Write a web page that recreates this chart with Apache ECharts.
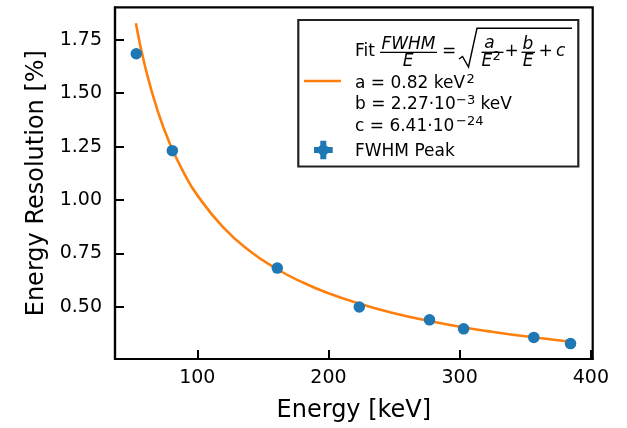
<!DOCTYPE html>
<html>
<head>
<meta charset="utf-8">
<script src="https://cdn.jsdelivr.net/npm/echarts@6/dist/echarts.min.js"></script>
<style>
  html, body { margin: 0; padding: 0; background: #fff; }
  #chart { width: 627px; height: 428px; }
</style>
</head>
<body>
<div id="chart"></div>
<script>
// ---- data ----
const peakEnergy = [53.5, 81.0, 161.0, 223.5, 277.0, 303.0, 356.5, 384.5];          // keV
const peakResolution = [1.684, 1.231, 0.682, 0.500, 0.440, 0.398, 0.358, 0.329];   // %
const fitEnergy = [53.2, 60, 70, 80, 90, 100, 120, 140, 160, 180, 200, 225, 250, 275, 300, 325, 350, 384.5];
const fitResolution = [1.826, 1.630, 1.413, 1.251, 1.125, 1.023, 0.871, 0.762, 0.680, 0.616, 0.564, 0.513, 0.471, 0.437, 0.408, 0.384, 0.363, 0.338];
const xTicks = [100, 200, 300, 400];
const yTicks = [0.50, 0.75, 1.00, 1.25, 1.50, 1.75];
const xName = 'Energy [keV]';
const yName = 'Energy Resolution [%]';
const fitLegendRows = ['a = 0.82 keV', 'b = 2.27\u00B710', 'c = 6.41\u00B710'];
const peakLegend = 'FWHM Peak';

const FONT = 'DejaVu Sans';
const BLUE = '#1f77b4';
const ORANGE = '#ff7f0e';

const chart = echarts.init(document.getElementById('chart'), null, { renderer: 'canvas' });

function txt(text, x, y, opts) {
  opts = opts || {};
  return {
    type: 'text', z: 102,
    style: {
      text: text, x: x, y: y,
      fill: '#000',
      font: (opts.italic ? 'italic ' : '') + (opts.size || 17) + 'px "' + FONT + '"',
      textAlign: opts.align || 'left',
      textVerticalAlign: 'middle',
      verticalAlign: 'middle'
    }
  };
}
function hline(x1, x2, y, w, color) {
  return { type: 'line', z: 102, shape: { x1: x1, y1: y, x2: x2, y2: y }, style: { stroke: color || '#000', lineWidth: w || 1.3 } };
}

const legendGraphics = [
  { type: 'rect', z: 100, shape: { x: 298.3, y: 20, width: 280, height: 146.5 }, style: { fill: '#fff', stroke: '#222', lineWidth: 2.2 } },
  // fit line handle
  hline(304, 341, 81, 2.6, ORANGE),
  // formula: Fit FWHM/E = sqrt(a/E^2 + b/E + c)
  txt('Fit', 355, 51.7),
  txt('FWHM', 408.5, 44.3, { italic: true, align: 'center' }),
  hline(380, 437, 52.3),
  txt('E', 408, 61.7, { italic: true, align: 'center' }),
  txt('=', 449, 51.7, { align: 'center' }),
  { type: 'polyline', z: 102, shape: { points: [[459, 59], [462.5, 56.5], [468.5, 67], [477, 28.3], [572, 28.3]] }, style: { stroke: '#000', lineWidth: 1.4, fill: null } },
  txt('a', 489.5, 43.3, { italic: true, align: 'center' }),
  hline(481.5, 503.5, 52.3),
  txt('E', 481.5, 61.7, { italic: true }),
  txt('2', 492.5, 56.5, { size: 13 }),
  txt('+', 511.7, 51.7, { align: 'center' }),
  txt('b', 527.8, 44.3, { italic: true, align: 'center' }),
  hline(521.5, 535, 52.3),
  txt('E', 528, 61.7, { italic: true, align: 'center' }),
  txt('+', 545.7, 51.7, { align: 'center' }),
  txt('c', 556, 51.7, { italic: true }),
  // parameter rows
  txt(fitLegendRows[0], 355, 83.3),
  txt('2', 466.5, 79.4, { size: 13 }),
  txt(fitLegendRows[1], 355, 105),
  txt('\u22123', 456, 100.5, { size: 13 }),
  txt('keV', 480.5, 105),
  txt(fitLegendRows[2], 355, 126.7),
  txt('\u221224', 456, 122, { size: 13 }),
  // peak handle: errorbar-like plus with marker
  { type: 'polygon', z: 102, shape: { points: [
      [320.3, 140.7], [326.3, 140.7], [326.3, 147], [332.7, 147], [332.7, 153], [326.3, 153],
      [326.3, 159.3], [320.3, 159.3], [320.3, 153], [314, 153], [314, 147], [320.3, 147]] },
    style: { fill: BLUE } },
  { type: 'circle', z: 103, shape: { cx: 323.3, cy: 150, r: 5.5 }, style: { fill: BLUE } },
  txt(peakLegend, 355, 151.7)
];

const option = {
  animation: false,
  backgroundColor: '#fff',
  textStyle: { fontFamily: FONT },
  grid: {
    left: 115, right: 34.3, top: 7.3, bottom: 64.7,
    show: true, borderColor: '#000', borderWidth: 2.2, backgroundColor: 'transparent'
  },
  xAxis: {
    type: 'value', min: 37.3, max: 401.4,
    name: xName, nameLocation: 'middle', nameGap: 40,
    nameTextStyle: { fontSize: 24, color: '#000', fontFamily: FONT },
    axisLine: { show: true, lineStyle: { color: '#000', width: 2.2 } },
    axisTick: { show: true, inside: true, length: 9, lineStyle: { color: '#000', width: 2 }, customValues: xTicks },
    axisLabel: { show: true, margin: 10, fontSize: 19, color: '#000', fontFamily: FONT, customValues: xTicks,
      formatter: function (v) { return String(Math.round(v)); } },
    splitLine: { show: false }
  },
  yAxis: {
    type: 'value', min: 0.257, max: 1.901,
    name: yName, nameLocation: 'middle', nameGap: 63,
    nameTextStyle: { fontSize: 24, color: '#000', fontFamily: FONT },
    axisLine: { show: true, lineStyle: { color: '#000', width: 2.2 } },
    axisTick: { show: true, inside: true, length: 9, lineStyle: { color: '#000', width: 2 }, customValues: yTicks },
    axisLabel: { show: true, margin: 13, fontSize: 19, color: '#000', fontFamily: FONT, customValues: yTicks,
      formatter: function (v) { return v.toFixed(2); } },
    splitLine: { show: false }
  },
  series: [
    {
      name: 'Fit', type: 'line', smooth: true, symbol: 'none',
      lineStyle: { color: ORANGE, width: 2.6 },
      data: fitEnergy.map(function (e, i) { return [e, fitResolution[i]]; }),
      z: 2
    },
    {
      name: peakLegend, type: 'scatter', symbol: 'circle', symbolSize: 11.5,
      itemStyle: { color: BLUE, opacity: 1 },
      data: peakEnergy.map(function (e, i) { return [e, peakResolution[i]]; }),
      z: 3
    }
  ],
  graphic: legendGraphics
};
chart.setOption(option);
</script>
</body>
</html>
